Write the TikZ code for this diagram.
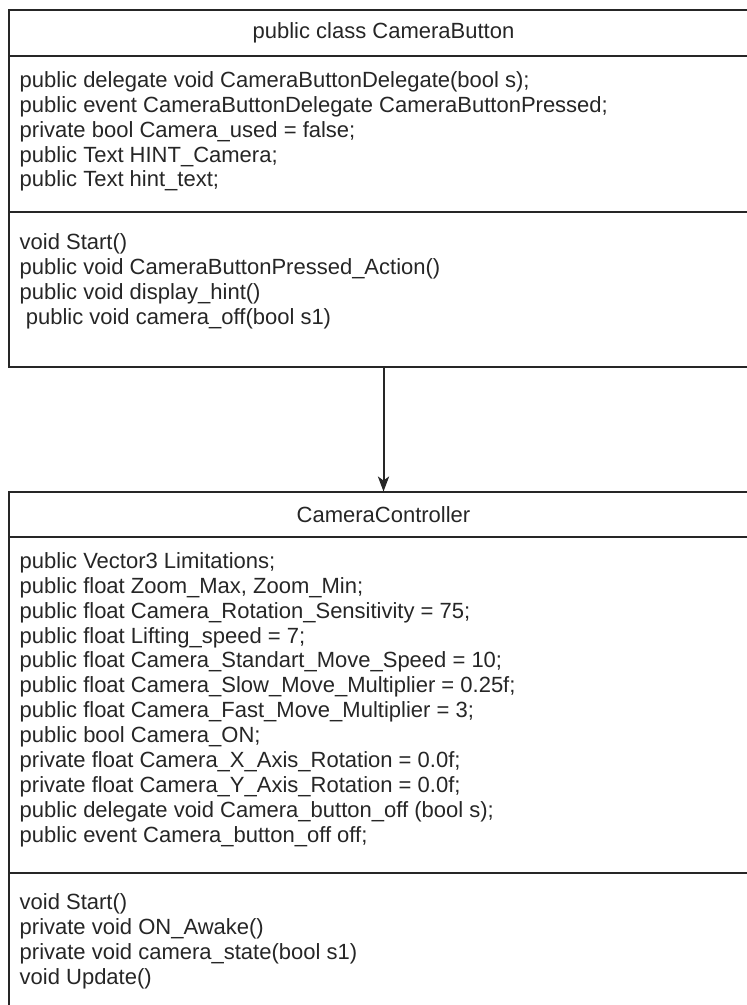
\documentclass[tikz,border=0pt]{standalone}
\usepackage{fontspec}
\setmainfont{Liberation Sans}
\usetikzlibrary{arrows.meta,positioning}
\tikzset{>={Stealth[length=7.5pt,width=5.6pt,inset=2pt]}}
\tikzset{
    part/.style={draw=black!85, line width=1pt, minimum width=374.5pt, inner sep=0pt, outer sep=0pt},
    title/.style={part, text=black!85, font=\fontsize{11}{12.45}\selectfont},
    members/.style={anchor=north west, align=left, inner sep=0pt, text=black!85, font=\fontsize{11}{12.45}\selectfont}
}

\begin{document}
\begin{tikzpicture}[x=0.5pt, y=-0.5pt]
    \useasboundingbox (0,0) rectangle (747,1005);
    \clip (0,0) rectangle (747,1005);
    \fill[white] (0,0) rectangle (747,1005);

    \node[title, anchor=north west, minimum height=23pt] (btnHead) at (9,10) {public class CameraButton};
    \node[part, below=0pt of btnHead, minimum height=78pt] (btnAttr) {};
    \node[part, below=0pt of btnAttr, minimum height=77.25pt] (btnMeth) {};

    \node[members] (btnAttrText) at ([shift={(10.3,15)}]btnAttr.north west)
        {public delegate void CameraButtonDelegate(bool s);\\
         public event CameraButtonDelegate CameraButtonPressed;\\
         private bool Camera\_used = false;\\
         public Text HINT\_Camera;\\
         public Text hint\_text;};
    \node[members] (btnMethText) at ([shift={(10.3,21)}]btnMeth.north west)
        {void Start()\\
         public void CameraButtonPressed\_Action()\\
         public void display\_hint()\\
         \ public void camera\_off(bool s1)};

    \node[title, below=62.5pt of btnMeth, minimum height=22.75pt] (ctrlHead) {CameraController};
    \node[part, below=0pt of ctrlHead, minimum height=167.75pt] (ctrlAttr) {};
    \node[part, below=0pt of ctrlAttr, minimum height=90pt] (ctrlMeth) {};

    \node[members] (ctrlAttrText) at ([shift={(10.3,15)}]ctrlAttr.north west)
        {public Vector3 Limitations;\\
         public float Zoom\_Max, Zoom\_Min;\\
         public float Camera\_Rotation\_Sensitivity = 75;\\
         public float Lifting\_speed = 7;\\
         public float Camera\_Standart\_Move\_Speed = 10;\\
         public float Camera\_Slow\_Move\_Multiplier = 0.25f;\\
         public float Camera\_Fast\_Move\_Multiplier = 3;\\
         public bool Camera\_ON;\\
         private float Camera\_X\_Axis\_Rotation = 0.0f;\\
         private float Camera\_Y\_Axis\_Rotation = 0.0f;\\
         public delegate void Camera\_button\_off (bool s);\\
         public event Camera\_button\_off off;};
    \node[members] (ctrlMethText) at ([shift={(10.3,21)}]ctrlMeth.north west)
        {void Start()\\
         private void ON\_Awake()\\
         private void camera\_state(bool s1)\\
         void Update()};

    \draw[->, draw=black!85, fill=black!85, line width=1pt] (btnMeth.south) -- (ctrlHead.north);

\end{tikzpicture}
\end{document}
